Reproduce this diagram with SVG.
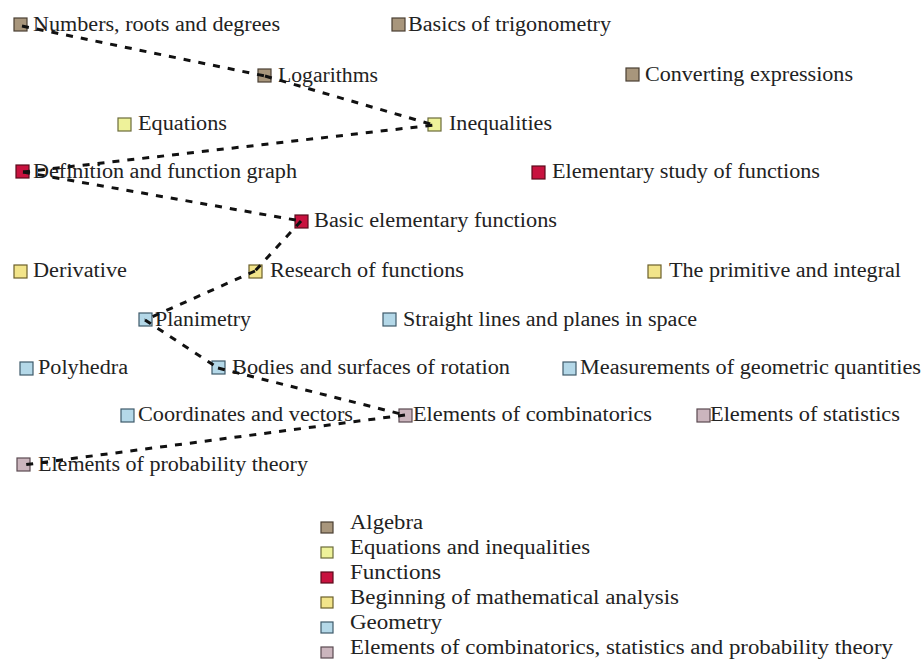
<svg xmlns="http://www.w3.org/2000/svg" width="924" height="661" viewBox="0 0 924 661">
<style>
text{font-family:"Liberation Serif","Times New Roman",serif;font-size:20px;fill:#222}
.sq{stroke-width:1.2}
.alg{fill:#a8967c;stroke:#4a3f33}
.eq{fill:#eef29a;stroke:#6b6b3a}
.fn{fill:#c8123f;stroke:#5a0a1c}
.an{fill:#f2e48a;stroke:#6b5f2a}
.geo{fill:#b4d8e8;stroke:#3e5a6a}
.cmb{fill:#cbb5bd;stroke:#5a4a50}
.edge{fill:none;stroke:#111;stroke-width:3;stroke-dasharray:7 8}
</style>
<rect width="924" height="661" fill="#fff"/>
<g id="nodes">
<g id="n-numbers"><rect class="sq alg" x="14" y="18" width="13" height="13"/><text x="33" y="31" textLength="247" lengthAdjust="spacingAndGlyphs">Numbers, roots and degrees</text></g>
<g id="n-trig"><rect class="sq alg" x="392" y="18" width="13" height="13"/><text x="408" y="31" textLength="203" lengthAdjust="spacingAndGlyphs">Basics of trigonometry</text></g>
<g id="n-log"><rect class="sq alg" x="258" y="69" width="13" height="13"/><text x="278" y="82" textLength="100" lengthAdjust="spacingAndGlyphs">Logarithms</text></g>
<g id="n-conv"><rect class="sq alg" x="626" y="68" width="13" height="13"/><text x="645" y="81" textLength="208" lengthAdjust="spacingAndGlyphs">Converting expressions</text></g>
<g id="n-equations"><rect class="sq eq" x="118" y="118" width="13" height="13"/><text x="138" y="130" textLength="89" lengthAdjust="spacingAndGlyphs">Equations</text></g>
<g id="n-inequalities"><rect class="sq eq" x="428" y="118" width="13" height="13"/><text x="449" y="130" textLength="103" lengthAdjust="spacingAndGlyphs">Inequalities</text></g>
<g id="n-definition"><rect class="sq fn" x="16" y="165" width="13" height="13"/><text x="33" y="178" textLength="264" lengthAdjust="spacingAndGlyphs">Definition and function graph</text></g>
<g id="n-elemstudy"><rect class="sq fn" x="532" y="166" width="13" height="13"/><text x="552" y="178" textLength="268" lengthAdjust="spacingAndGlyphs">Elementary study of functions</text></g>
<g id="n-basicelem"><rect class="sq fn" x="295" y="215" width="13" height="13"/><text x="314" y="227" textLength="243" lengthAdjust="spacingAndGlyphs">Basic elementary functions</text></g>
<g id="n-derivative"><rect class="sq an" x="14" y="265" width="13" height="13"/><text x="33" y="277" textLength="94" lengthAdjust="spacingAndGlyphs">Derivative</text></g>
<g id="n-research"><rect class="sq an" x="249" y="265" width="13" height="13"/><text x="270" y="277" textLength="194" lengthAdjust="spacingAndGlyphs">Research of functions</text></g>
<g id="n-primitive"><rect class="sq an" x="648" y="265" width="13" height="13"/><text x="669" y="277" textLength="232" lengthAdjust="spacingAndGlyphs">The primitive and integral</text></g>
<g id="n-planimetry"><rect class="sq geo" x="139" y="313" width="13" height="13"/><text x="155" y="326" textLength="96" lengthAdjust="spacingAndGlyphs">Planimetry</text></g>
<g id="n-straight"><rect class="sq geo" x="383" y="313" width="13" height="13"/><text x="403" y="326" textLength="294" lengthAdjust="spacingAndGlyphs">Straight lines and planes in space</text></g>
<g id="n-polyhedra"><rect class="sq geo" x="20" y="362" width="13" height="13"/><text x="38" y="374" textLength="90" lengthAdjust="spacingAndGlyphs">Polyhedra</text></g>
<g id="n-bodies"><rect class="sq geo" x="212" y="361" width="13" height="13"/><text x="232" y="374" textLength="278" lengthAdjust="spacingAndGlyphs">Bodies and surfaces of rotation</text></g>
<g id="n-measure"><rect class="sq geo" x="563" y="362" width="13" height="13"/><text x="580" y="374" textLength="341" lengthAdjust="spacingAndGlyphs">Measurements of geometric quantities</text></g>
<g id="n-coords"><rect class="sq geo" x="121" y="409" width="13" height="13"/><text x="138" y="421" textLength="215" lengthAdjust="spacingAndGlyphs">Coordinates and vectors</text></g>
<g id="n-combin"><rect class="sq cmb" x="399" y="409" width="13" height="13"/><text x="413" y="421" textLength="239" lengthAdjust="spacingAndGlyphs">Elements of combinatorics</text></g>
<g id="n-stats"><rect class="sq cmb" x="697" y="409" width="13" height="13"/><text x="710" y="421" textLength="190" lengthAdjust="spacingAndGlyphs">Elements of statistics</text></g>
<g id="n-prob"><rect class="sq cmb" x="17" y="458" width="13" height="13"/><text x="38" y="471" textLength="270" lengthAdjust="spacingAndGlyphs">Elements of probability theory</text></g>
</g>
<g id="legend">
<rect class="sq alg" x="321" y="522" width="12" height="11"/><text x="350" y="529" textLength="73" lengthAdjust="spacingAndGlyphs">Algebra</text>
<rect class="sq eq" x="321" y="547" width="12" height="11"/><text x="350" y="554" textLength="240" lengthAdjust="spacingAndGlyphs">Equations and inequalities</text>
<rect class="sq fn" x="321" y="572" width="12" height="11"/><text x="350" y="579" textLength="91" lengthAdjust="spacingAndGlyphs">Functions</text>
<rect class="sq an" x="321" y="597" width="12" height="11"/><text x="350" y="604" textLength="329" lengthAdjust="spacingAndGlyphs">Beginning of mathematical analysis</text>
<rect class="sq geo" x="321" y="622" width="12" height="11"/><text x="350" y="629" textLength="92" lengthAdjust="spacingAndGlyphs">Geometry</text>
<rect class="sq cmb" x="321" y="647" width="12" height="11"/><text x="350" y="654" textLength="543" lengthAdjust="spacingAndGlyphs">Elements of combinatorics, statistics and probability theory</text>
</g>
<g id="connectors">
<line class="edge" x1="22" y1="26" x2="265" y2="76"/>
<line class="edge" x1="265" y1="76" x2="434" y2="125"/>
<line class="edge" x1="23" y1="172" x2="434" y2="125"/>
<line class="edge" x1="23" y1="172" x2="301" y2="221"/>
<line class="edge" x1="301" y1="221" x2="255" y2="271"/>
<line class="edge" x1="255" y1="271" x2="145" y2="320"/>
<line class="edge" x1="145" y1="320" x2="218" y2="368"/>
<line class="edge" x1="218" y1="368" x2="405" y2="415"/>
<line class="edge" x1="405" y1="415" x2="23" y2="465"/>
</g>
</svg>
